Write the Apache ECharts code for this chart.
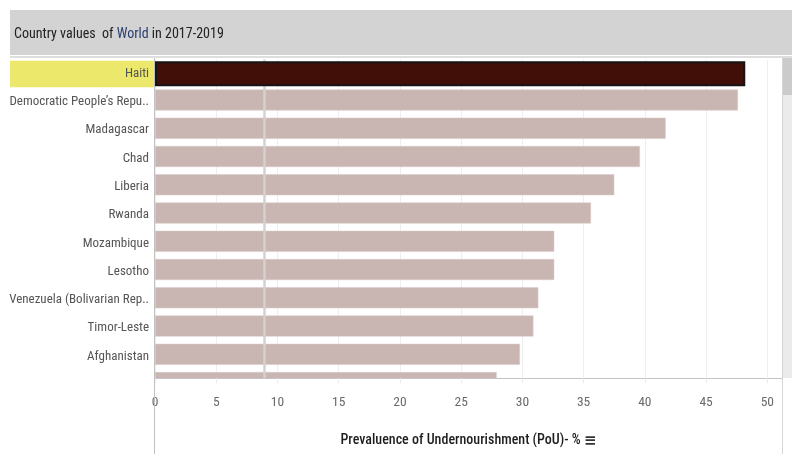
<!DOCTYPE html>
<html>
<head>
<meta charset="utf-8">
<script src="https://cdn.jsdelivr.net/npm/echarts@6/dist/echarts.min.js"></script>
<style>
html,body{margin:0;padding:0;background:#fff;}
#chart{width:792px;height:454px;}
</style>
</head>
<body>
<div id="chart"></div>
<script>
const categories = [
  "Haiti",
  "Democratic People\u2019s Repu..",
  "Madagascar",
  "Chad",
  "Liberia",
  "Rwanda",
  "Mozambique",
  "Lesotho",
  "Venezuela (Bolivarian Rep..",
  "Timor-Leste",
  "Afghanistan",
  "\u2026"
];
const pouValues = [48.2, 47.6, 41.7, 39.6, 37.5, 35.6, 32.6, 32.6, 31.3, 30.9, 29.8, 27.9];
const highlighted = "Haiti";
const worldValue = 8.9;
const xTicks = [0, 5, 10, 15, 20, 25, 30, 35, 40, 45, 50];

const FONT = "'Roboto Condensed', 'Liberation Sans Narrow', sans-serif";

const otherData = categories.map((c, i) => c === highlighted ? '-' : pouValues[i]);
const hiData = categories.map((c, i) => c === highlighted ? pouValues[i] : '-');

const xCommon = {type: 'value', min: 0, max: 51.2, interval: 5, position: 'bottom'};

const chart = echarts.init(document.getElementById('chart'), null, {renderer: 'canvas'});
chart.setOption({
  animation: false,
  backgroundColor: '#ffffff',
  grid: {left: 155, right: 10, top: 59.6, height: 339.1, containLabel: false, outerBoundsMode: 'none'},
  xAxis: [
    Object.assign({}, xCommon, {
      z: 0,
      axisLine: {show: false},
      axisTick: {show: false},
      axisLabel: {show: false},
      splitLine: {show: true, lineStyle: {color: '#eeeeee', width: 1}}
    }),
    Object.assign({}, xCommon, {
      offset: -20.4,
      z: 6,
      axisLine: {show: true, onZero: false, lineStyle: {color: '#c4c4c4', width: 1}},
      axisTick: {show: true, length: 5, lineStyle: {color: '#ececec'}},
      splitLine: {show: false},
      axisLabel: {
        color: '#6a6a6a', fontFamily: FONT, fontSize: 13.5, margin: 17,
        formatter: v => (xTicks.indexOf(v) >= 0 ? String(v) : '')
      },
      name: 'Prevaluence of Undernourishment (PoU)- % {i|\u2261}',
      nameLocation: 'middle',
      nameGap: 55,
      nameTextStyle: {
        color: '#1e1e1e', fontFamily: FONT, fontSize: 14, fontWeight: 500,
        rich: {i: {fontSize: 15, fontWeight: 'bold', color: '#333', fontFamily: 'DejaVu Sans'}}
      }
    })
  ],
  yAxis: {
    type: 'category',
    data: categories,
    inverse: true,
    z: 0,
    axisLine: {show: false},
    axisTick: {show: false},
    splitLine: {show: false},
    axisLabel: {
      color: '#555', fontFamily: FONT, fontSize: 13, margin: 6,
      formatter: (v, i) => (i === categories.length - 1 ? '' : v)
    }
  },
  graphic: [
    {type: 'rect', z: 0, shape: {x: 10, y: 10, width: 782, height: 45}, style: {fill: '#d3d3d3'}},
    {type: 'rect', z: 0, shape: {x: 10, y: 56, width: 782, height: 2}, style: {fill: '#dedede'}},
    {type: 'text', z: 1, x: 14, y: 34, style: {
      text: '{a|Country values  of }{b|World}{a| in 2017-2019}',
      verticalAlign: 'middle',
      rich: {
        a: {fontFamily: FONT, fontSize: 14, fill: '#222'},
        b: {fontFamily: FONT, fontSize: 14, fill: '#2a3b6e'}
      }
    }},
    {type: 'rect', z: 0, shape: {x: 10, y: 60.7, width: 144, height: 26.6}, style: {fill: '#ebe86b'}},
    {type: 'rect', z: 5, shape: {x: 0, y: 378.8, width: 782, height: 80}, style: {fill: '#ffffff'}},
    {type: 'rect', z: 7, shape: {x: 783, y: 58, width: 9, height: 320}, style: {fill: '#ebebeb'}},
    {type: 'rect', z: 7, shape: {x: 783, y: 58, width: 9, height: 37}, style: {fill: '#cbcbcb'}},
    {type: 'line', z: 7, shape: {x1: 154.5, y1: 58, x2: 154.5, y2: 454}, style: {stroke: '#c2c2c2', lineWidth: 1}},
    {type: 'line', z: 7, shape: {x1: 782.5, y1: 58, x2: 782.5, y2: 454}, style: {stroke: '#d6d6d6', lineWidth: 1}}
  ],
  series: [
    {
      type: 'bar',
      xAxisIndex: 0,
      z: 2,
      data: otherData,
      barWidth: 21,
      barGap: '-100%',
      itemStyle: {color: '#c9b6b2', borderColor: '#d9cbc8', borderWidth: 0.5},
      markLine: {
        z: 3,
        silent: true,
        symbol: 'none',
        label: {show: false},
        lineStyle: {color: '#d4d1d0', width: 2.5, type: 'solid'},
        data: [{xAxis: worldValue}]
      }
    },
    {
      type: 'bar',
      xAxisIndex: 0,
      z: 4,
      data: hiData,
      barWidth: 25,
      barGap: '-100%',
      itemStyle: {color: '#420f08', borderColor: '#141414', borderWidth: 2}
    }
  ]
});
</script>
</body>
</html>
